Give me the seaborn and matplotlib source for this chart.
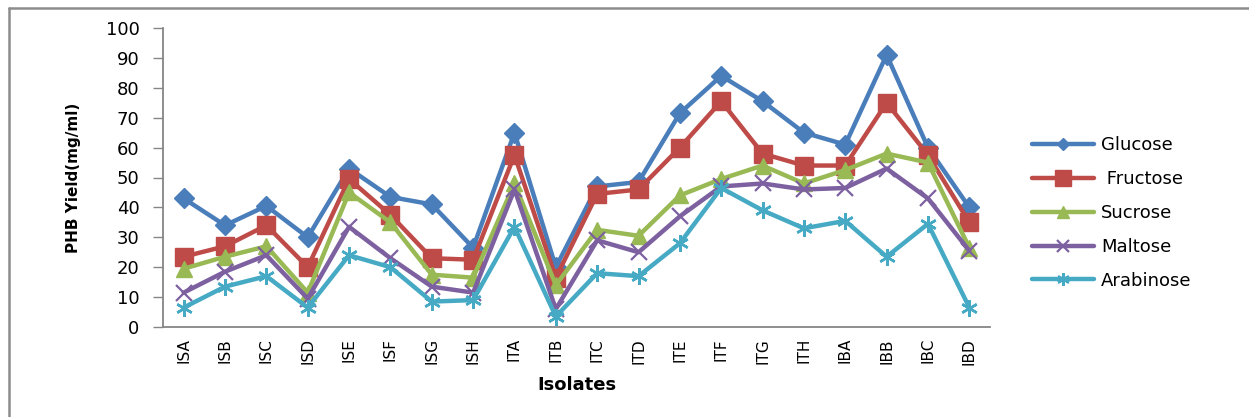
import matplotlib
matplotlib.use("Agg")
import matplotlib.pyplot as plt
from matplotlib.lines import Line2D
import seaborn as sns

isolates = ["ISA", "ISB", "ISC", "ISD", "ISE", "ISF", "ISG", "ISH", "ITA", "ITB",
            "ITC", "ITD", "ITE", "ITF", "ITG", "ITH", "IBA", "IBB", "IBC", "IBD"]

glucose = [43, 34, 40.5, 30, 53, 43.5, 41, 26.5, 65, 20,
           47, 48.5, 71.5, 84, 75.5, 65, 61, 91, 60, 40]
fructose = [23.5, 27, 34, 20, 49.5, 37.5, 23, 22.5, 57.5, 16.5,
            44.5, 46, 60, 75.5, 58, 54, 54, 75, 57.5, 35]
sucrose = [19.5, 23.5, 27, 11.5, 45, 35, 17.5, 16.5, 48, 14,
           32.5, 30.5, 44, 49.5, 54, 48, 52.5, 58, 55, 26.5]
maltose = [11.5, 18.5, 24, 9.5, 33.5, 23, 13.5, 11.5, 46, 6,
           29, 25, 37, 47, 48, 46, 46.5, 53, 43, 25.5]
arabinose = [6.5, 13.5, 17, 6.5, 24, 20, 8.5, 9, 33.5, 3.5,
             18, 17, 28, 46.5, 39, 33, 35.5, 23.5, 34.5, 6.5]

series_names = ["Glucose", " Fructose", "Sucrose", "Maltose", "Arabinose"]
series_values = [glucose, fructose, sucrose, maltose, arabinose]
y_ticks = [0, 10, 20, 30, 40, 50, 60, 70, 80, 90, 100]

colors = ["#4A7EBB", "#BE4B48", "#98B954", "#7D60A0", "#46AAC5"]
markers = ["D", "s", "^", "x", (6, 2, 0)]
msizes = [10, 13, 11, 11, 12]
mews = [1, 1, 1, 1.6, 1.8]
legend_ms = [6, 12, 9, 9, 9]

sns.set_theme(style="white")
plt.rcParams["font.family"] = ["DejaVu Sans"]
plt.rcParams["text.color"] = "black"
plt.rcParams["axes.labelcolor"] = "black"
plt.rcParams["xtick.color"] = "black"
plt.rcParams["ytick.color"] = "black"

fig = plt.figure(figsize=(12.49, 4.17), dpi=100)
ax = fig.add_axes([163 / 1249, 1 - 327 / 417, (990 - 163) / 1249, (327 - 28) / 417])

for name, vals, c, m, ms, mew in zip(series_names, series_values, colors, markers, msizes, mews):
    sns.lineplot(x=isolates, y=vals, ax=ax, color=c, marker=m, markersize=ms,
                 markeredgecolor=c, markeredgewidth=mew, linewidth=3.2,
                 sort=False, legend=False)

ax.set_xlim(-0.5, len(isolates) - 0.5)
ax.set_ylim(0, 100)
ax.set_yticks(y_ticks)
ax.set_yticklabels([str(t) for t in y_ticks], fontsize=13)
ax.set_xticks(range(len(isolates)))
ax.set_xticklabels(isolates, rotation=90, fontsize=11)
ax.tick_params(axis="y", length=7, width=1, color="#868686", pad=10, left=True)
ax.tick_params(axis="x", length=0, pad=8)

for side in ["top", "right"]:
    ax.spines[side].set_visible(False)
for side in ["left", "bottom"]:
    ax.spines[side].set_color("#868686")
    ax.spines[side].set_linewidth(1.3)

ax.set_ylabel("PHB Yield(mg/ml)", fontsize=11, fontweight="bold",
              family=["DejaVu Sans Condensed", "DejaVu Sans"], labelpad=18)
ax.set_xlabel("Isolates", fontsize=13, fontweight="bold",
              family=["DejaVu Sans Condensed", "DejaVu Sans"], labelpad=8)

handles = [Line2D([0], [0], color=c, marker=m, markersize=ms, markeredgecolor=c,
                  markeredgewidth=mew, linewidth=3.2)
           for c, m, ms, mew in zip(colors, markers, legend_ms, mews)]
fig.legend(handles, series_names, loc="upper left",
           bbox_to_anchor=(1016 / 1249, 1 - 120 / 417), frameon=False,
           fontsize=13, handlelength=3.4, handletextpad=0.4, labelspacing=0.88)

# outer chart frame
fx = 9 / 1249
fy = 1 - 8 / 417
fig.add_artist(Line2D([fx, 1], [fy, fy], transform=fig.transFigure, color="#8C8C8C", lw=1.8))
fig.add_artist(Line2D([fx, fx], [0, fy], transform=fig.transFigure, color="#8C8C8C", lw=1.8))

fig.savefig("out.png", dpi=100)
